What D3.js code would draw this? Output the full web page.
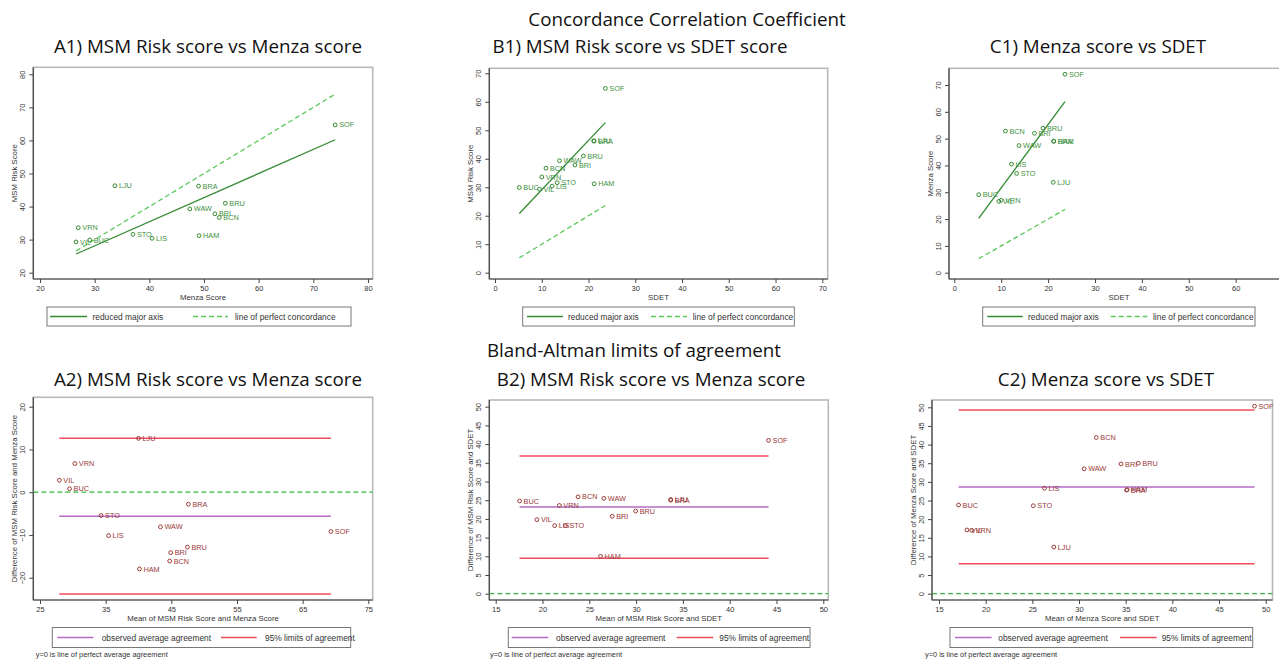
<!DOCTYPE html>
<html>
<head>
<meta charset="utf-8">
<script src="https://cdn.jsdelivr.net/npm/d3@7"></script>
<style>
  body { margin: 0; background: #fff; }
  svg { display: block; }
</style>
</head>
<body>
<svg id="chart"></svg>
<script>
var width = 1279;
var height = 659;

// city codes, same order in every array below
var cities = ['SOF', 'LJU', 'BRA', 'BRU', 'WAW', 'BRI', 'BCN', 'VRN', 'STO', 'HAM', 'LIS', 'BUC', 'VIL'];
var msmScore = [64.7, 46.3, 46.2, 41.0, 39.3, 37.8, 36.7, 33.6, 31.6, 31.2, 30.4, 29.9, 29.3];
var menzaScore = [74.0, 33.7, 49.0, 53.9, 47.4, 52.0, 52.8, 27.0, 37.0, 49.1, 40.5, 29.1, 26.6];
var sdetScore = [23.6, 21.1, 21.2, 18.9, 13.8, 17.1, 10.9, 10.0, 13.3, 21.2, 12.2, 5.2, 9.5];

// bland-altman: mean and difference per city
var baMeanA = [69.3, 40.0, 47.6, 47.45, 43.35, 44.9, 44.75, 30.3, 34.3, 40.15, 35.45, 29.5, 27.95];
var baDiffA = [-9.2, 12.6, -2.8, -12.85, -8.1, -14.15, -16.1, 6.7, -5.45, -17.95, -10.15, 0.8, 2.8];
var baMeanB = [44.15, 33.7, 33.7, 29.95, 26.55, 27.45, 23.8, 21.8, 22.45, 26.2, 21.3, 17.55, 19.4];
var baDiffB = [41.0, 25.2, 25.0, 22.1, 25.5, 20.7, 25.9, 23.6, 18.2, 10.0, 18.2, 24.8, 19.8];
var baMeanC = [48.8, 27.3, 35.1, 36.35, 30.55, 34.5, 31.85, 18.5, 25.1, 35.15, 26.3, 17.1, 18.0];
var baDiffC = [50.3, 12.5, 27.8, 35.0, 33.5, 34.8, 41.9, 17.0, 23.6, 27.9, 28.3, 23.8, 17.1];

// reduced major axis end points
var rmaA1 = [[26.6, 25.65], [74.0, 60.2]];
var rmaB1 = [[5.2, 20.8], [23.6, 52.7]];
var rmaC1 = [[5.2, 20.3], [23.6, 63.8]];

// [average agreement, upper limit, lower limit]
var limitsA2 = [-5.65, 12.6, -23.8];
var limitsB2 = [23.2, 36.8, 9.45];
var limitsC2 = [28.6, 49.3, 8.05];

var ticksA1 = [20, 30, 40, 50, 60, 70, 80];
var ticks0to70 = [0, 10, 20, 30, 40, 50, 60, 70];
var ticksA2x = [25, 35, 45, 55, 65, 75];
var ticksA2y = [-20, -10, 0, 10, 20];
var ticksBAx = [15, 20, 25, 30, 35, 40, 45, 50];
var ticksBAy = [0, 5, 10, 15, 20, 25, 30, 35, 40, 45, 50];

var green = '#338a33', greenLabel = '#3f923f', greenDash = '#5cc95c';
var maroon = '#9a3a3a', purple = '#b56ac6', red = '#f24a5a', zeroGreen = '#3cb63c';
var axisFont = '"Liberation Sans", Arial, sans-serif';
var headFont = '"Open Sans", "Noto Sans", sans-serif';

var svg = d3.select('#chart').attr('width', width).attr('height', height);

// headings
var heads = [
  ['Concordance Correlation Coefficient', 687, 26],
  ['A1) MSM Risk score vs Menza score', 208, 53],
  ['B1) MSM Risk score vs SDET score', 640, 53],
  ['C1) Menza score vs SDET', 1098, 53],
  ['Bland-Altman limits of agreement', 634, 357],
  ['A2) MSM Risk score vs Menza score', 208, 386],
  ['B2) MSM Risk score vs Menza score', 651, 386],
  ['C2) Menza score vs SDET', 1106, 386]
];
svg.selectAll('text.head').data(heads).enter().append('text')
  .attr('class', 'head')
  .attr('x', function(d) { return d[1]; })
  .attr('y', function(d) { return d[2]; })
  .attr('text-anchor', 'middle')
  .style('font-family', headFont)
  .style('font-size', '18.8px')
  .style('fill', '#111')
  .text(function(d) { return d[0]; });

function zip(xs, ys) {
  return cities.map(function(c, i) { return { name: c, x: xs[i], y: ys[i] }; });
}

function drawPanel(p) {
  var g = svg.append('g');
  var f = p.frame;
  var x = d3.scaleLinear().domain(p.xDomain).range(p.xRange);
  var y = d3.scaleLinear().domain(p.yDomain).range(p.yRange);

  // plot region outline
  g.append('rect')
    .attr('x', f[0]).attr('y', f[1])
    .attr('width', f[2] - f[0]).attr('height', f[3] - f[1])
    .attr('fill', 'none').attr('stroke', '#b8b8b8').attr('stroke-width', 1.6);

  // axes
  var xAxis = d3.axisBottom(x).tickValues(p.xTicks).tickSize(4).tickPadding(3);
  var gx = g.append('g').attr('transform', 'translate(0,' + f[3] + ')').call(xAxis);
  var yAxis = d3.axisLeft(y).tickValues(p.yTicks).tickSize(4);
  var gy = g.append('g').attr('transform', 'translate(' + f[0] + ',0)').call(yAxis);
  [gx, gy].forEach(function(a) {
    a.select('.domain').remove();
    a.selectAll('line').attr('stroke', '#444');
    a.selectAll('text').style('font-family', axisFont).style('font-size', '7.5px').style('fill', '#333');
  });
  gy.selectAll('text')
    .attr('x', null).attr('dy', null)
    .attr('text-anchor', 'middle')
    .attr('transform', 'translate(-8.5,0) rotate(-90)');
  g.append('line').attr('x1', f[0]).attr('x2', f[2]).attr('y1', f[3]).attr('y2', f[3])
    .attr('stroke', '#444').attr('stroke-width', 1.2);
  g.append('line').attr('x1', f[0]).attr('x2', f[0]).attr('y1', f[1]).attr('y2', f[3])
    .attr('stroke', '#444').attr('stroke-width', 1.2);

  // axis titles
  g.append('text')
    .attr('x', (f[0] + f[2]) / 2).attr('y', f[3] + 21)
    .attr('text-anchor', 'middle')
    .style('font-family', axisFont).style('font-size', '7.8px').style('fill', '#333')
    .text(p.xTitle);
  g.append('text')
    .attr('transform', 'translate(' + (f[0] - 16.5) + ',' + ((f[1] + f[3]) / 2) + ') rotate(-90)')
    .attr('text-anchor', 'middle')
    .style('font-family', axisFont).style('font-size', '7.8px').style('fill', '#333')
    .text(p.yTitle);

  var line = d3.line().x(function(d) { return x(d[0]); }).y(function(d) { return y(d[1]); });

  if (p.kind === 'ccc') {
    var lo = d3.min(p.points, function(d) { return d.x; });
    var hi = d3.max(p.points, function(d) { return d.x; });
    g.append('path').datum(p.rma).attr('d', line)
      .attr('fill', 'none').attr('stroke', green).attr('stroke-width', 1.3);
    g.append('path').datum([[lo, lo], [hi, hi]]).attr('d', line)
      .attr('fill', 'none').attr('stroke', greenDash).attr('stroke-width', 1.3)
      .attr('stroke-dasharray', '5,3');
  } else {
    var ext = d3.extent(p.points, function(d) { return d.x; });
    g.append('line')
      .attr('x1', f[0]).attr('x2', f[2]).attr('y1', y(0)).attr('y2', y(0))
      .attr('stroke', zeroGreen).attr('stroke-width', 1.3).attr('stroke-dasharray', '5,3');
    p.limits.forEach(function(v, i) {
      g.append('line')
        .attr('x1', x(ext[0])).attr('x2', x(ext[1])).attr('y1', y(v)).attr('y2', y(v))
        .attr('stroke', i === 0 ? purple : red).attr('stroke-width', 1.5);
    });
  }

  var mc = p.kind === 'ccc' ? green : maroon;
  var lc = p.kind === 'ccc' ? greenLabel : maroon;
  g.selectAll('circle').data(p.points).enter().append('circle')
    .attr('cx', function(d) { return x(d.x); })
    .attr('cy', function(d) { return y(d.y); })
    .attr('r', 1.9)
    .attr('fill', 'none').attr('stroke', mc).attr('stroke-width', 1);
  g.selectAll('text.lab').data(p.points).enter().append('text')
    .attr('class', 'lab')
    .attr('x', function(d) { return x(d.x) + 4; })
    .attr('y', function(d) { return y(d.y) + 2.6; })
    .style('font-family', axisFont).style('font-size', '7.3px').style('fill', lc)
    .text(function(d) { return d.name; });

  // legend
  var L = p.legend;
  g.append('rect')
    .attr('x', L.box[0]).attr('y', L.box[1])
    .attr('width', L.box[2] - L.box[0]).attr('height', L.box[3] - L.box[1])
    .attr('fill', '#fff').attr('stroke', '#777').attr('stroke-width', 1);
  var cy = (L.box[1] + L.box[3]) / 2;
  L.items.forEach(function(it) {
    var ln = g.append('line')
      .attr('x1', it.x0).attr('x2', it.x1).attr('y1', cy).attr('y2', cy)
      .attr('stroke', it.color).attr('stroke-width', 1.4);
    if (it.dash) ln.attr('stroke-dasharray', '5,3');
    g.append('text')
      .attr('x', it.tx).attr('y', cy + 3)
      .style('font-family', axisFont).style('font-size', '8.4px').style('fill', '#333')
      .text(it.label);
  });
  if (p.note) {
    g.append('text')
      .attr('x', p.note[0]).attr('y', p.note[1])
      .style('font-family', axisFont).style('font-size', '7.4px').style('fill', '#333')
      .text('y=0 is line of perfect average agreement');
  }
}

function cccLegend(bx0, bx1, xs) {
  return {
    box: [bx0, 307, bx1, 326],
    items: [
      { x0: xs[0], x1: xs[1], tx: xs[2], color: green, label: 'reduced major axis' },
      { x0: xs[3], x1: xs[4], tx: xs[5], color: greenDash, dash: true, label: 'line of perfect concordance' }
    ]
  };
}
function baLegend(bx0, bx1, xs) {
  return {
    box: [bx0, 627.5, bx1, 647.5],
    items: [
      { x0: xs[0], x1: xs[1], tx: xs[2], color: purple, label: 'observed average agreement' },
      { x0: xs[3], x1: xs[4], tx: xs[5], color: red, label: '95% limits of agreement' }
    ]
  };
}

var panels = [
  {
    kind: 'ccc', frame: [33.3, 67.3, 372.7, 279],
    xDomain: [20, 80], xRange: [40, 368], yDomain: [20, 80], yRange: [272.7, 74.3],
    xTicks: ticksA1, yTicks: ticksA1,
    xTitle: 'Menza Score', yTitle: 'MSM Risk Score',
    points: zip(menzaScore, msmScore), rma: rmaA1,
    legend: cccLegend(47, 351, [50, 87, 92.5, 193, 228, 235])
  },
  {
    kind: 'ccc', frame: [489.3, 68.3, 827.7, 279],
    xDomain: [0, 70], xRange: [495, 822.3], yDomain: [0, 70], yRange: [272.7, 73.3],
    xTicks: ticks0to70, yTicks: ticks0to70,
    xTitle: 'SDET', yTitle: 'MSM Risk Score',
    points: zip(sdetScore, msmScore), rma: rmaB1,
    legend: cccLegend(522.7, 794.3, [527, 563, 568, 651, 687, 692.7])
  },
  {
    kind: 'ccc', frame: [949, 68.3, 1289, 279],
    xDomain: [0, 60], xRange: [954.3, 1235.7], yDomain: [0, 70], yRange: [272.7, 85],
    xTicks: ticks0to70, yTicks: ticks0to70,
    xTitle: 'SDET', yTitle: 'Menza Score',
    points: zip(sdetScore, menzaScore), rma: rmaC1,
    legend: cccLegend(982.7, 1255, [987.3, 1022.7, 1028, 1110.7, 1147.3, 1153])
  },
  {
    kind: 'ba', frame: [33.3, 397.3, 372.7, 600],
    xDomain: [25, 75], xRange: [40, 368.3], yDomain: [-20, 20], yRange: [577.7, 406.7],
    xTicks: ticksA2x, yTicks: ticksA2y,
    xTitle: 'Mean of MSM Risk Score and Menza Score',
    yTitle: 'Difference of MSM Risk Score and Menza Score',
    points: zip(baMeanA, baDiffA), limits: limitsA2,
    legend: baLegend(52.3, 350.7, [57.3, 93.3, 101.7, 221, 256.7, 265]),
    note: [35.7, 657]
  },
  {
    kind: 'ba', frame: [489.3, 400, 828.3, 600],
    xDomain: [15, 50], xRange: [495.7, 823.3], yDomain: [0, 50], yRange: [593.7, 406.7],
    xTicks: ticksBAx, yTicks: ticksBAy,
    xTitle: 'Mean of MSM Risk Score and SDET',
    yTitle: 'Difference of MSM Risk Score and SDET',
    points: zip(baMeanB, baDiffB), limits: limitsB2,
    legend: baLegend(508.3, 810, [511.7, 548.3, 556, 676.7, 713.3, 719.3]),
    note: [490, 657]
  },
  {
    kind: 'ba', frame: [932, 400, 1272.5, 600],
    xDomain: [15, 50], xRange: [939, 1265.7], yDomain: [0, 50], yRange: [593.7, 407.3],
    xTicks: ticksBAx, yTicks: ticksBAy,
    xTitle: 'Mean of Menza Score and SDET',
    yTitle: 'Difference of Menza Score and SDET',
    points: zip(baMeanC, baDiffC), limits: limitsC2,
    legend: baLegend(950, 1252.7, [955, 991.7, 998.3, 1120, 1156.7, 1161.7]),
    note: [925, 657]
  }
];

panels.forEach(drawPanel);
</script>
</body>
</html>
